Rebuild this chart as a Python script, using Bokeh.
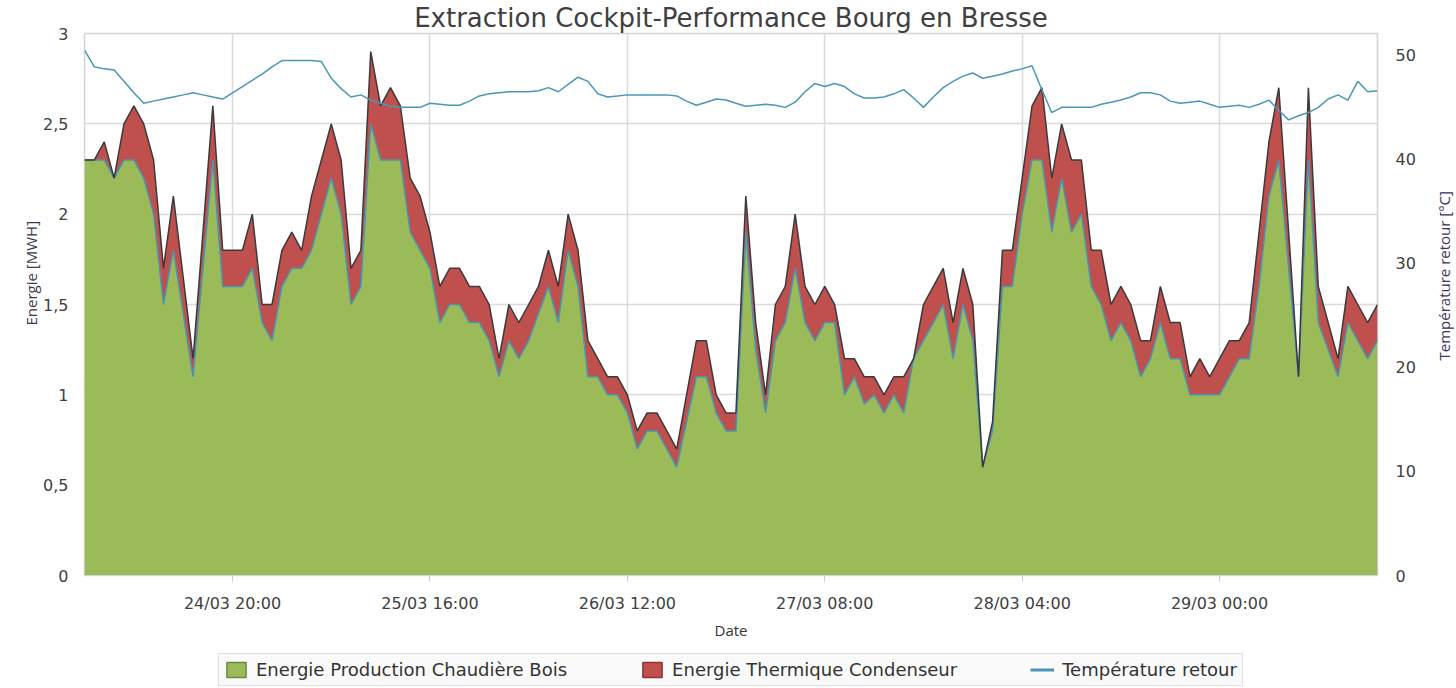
import pandas as pd
from bokeh.plotting import figure
from bokeh.layouts import column, row
from bokeh.models import (ColumnDataSource, Range1d, LinearAxis, FixedTicker,
                          DatetimeTickFormatter, Legend, LegendItem, Title)
from bokeh.embed import file_html
from bokeh.resources import INLINE

# ---------------- data (hourly) ----------------
start_time = "2021-03-24 05:00"

energie_bois = [
    2.3, 2.3, 2.3, 2.2, 2.3, 2.3, 2.2, 2.0, 1.5, 1.8,
    1.45, 1.1, 1.7, 2.3, 1.6, 1.6, 1.6, 1.7, 1.4, 1.3,
    1.6, 1.7, 1.7, 1.8, 2.0, 2.2, 2.0, 1.5, 1.6, 2.5,
    2.3, 2.3, 2.3, 1.9, 1.8, 1.7, 1.4, 1.5, 1.5, 1.4,
    1.4, 1.3, 1.1, 1.3, 1.2, 1.3, 1.45, 1.6, 1.4, 1.8,
    1.6, 1.1, 1.1, 1.0, 1.0, 0.9, 0.7, 0.8, 0.8, 0.7,
    0.6, 0.85, 1.1, 1.1, 0.9, 0.8, 0.8, 1.9, 1.25, 0.9,
    1.3, 1.4, 1.7, 1.4, 1.3, 1.4, 1.4, 1.0, 1.1, 0.95,
    1.0, 0.9, 1.0, 0.9, 1.2, 1.3, 1.4, 1.5, 1.2, 1.5,
    1.3, 0.6, 0.8, 1.6, 1.6, 2.0, 2.3, 2.3, 1.9, 2.2,
    1.9, 2.0, 1.6, 1.5, 1.3, 1.4, 1.3, 1.1, 1.2, 1.4,
    1.2, 1.2, 1.0, 1.0, 1.0, 1.0, 1.1, 1.2, 1.2, 1.6,
    2.1, 2.3, 1.7, 1.1, 2.3, 1.4, 1.25, 1.1, 1.4, 1.3,
    1.2, 1.3,
]

energie_condenseur = [
    0.0, 0.0, 0.1, 0.0, 0.2, 0.3, 0.3, 0.3, 0.2, 0.3,
    0.2, 0.1, 0.2, 0.3, 0.2, 0.2, 0.2, 0.3, 0.1, 0.2,
    0.2, 0.2, 0.1, 0.3, 0.3, 0.3, 0.3, 0.2, 0.2, 0.4,
    0.3, 0.4, 0.3, 0.3, 0.3, 0.2, 0.2, 0.2, 0.2, 0.2,
    0.2, 0.2, 0.1, 0.2, 0.2, 0.2, 0.15, 0.2, 0.2, 0.2,
    0.2, 0.2, 0.1, 0.1, 0.1, 0.1, 0.1, 0.1, 0.1, 0.1,
    0.1, 0.15, 0.2, 0.2, 0.1, 0.1, 0.1, 0.2, 0.15, 0.1,
    0.2, 0.2, 0.3, 0.2, 0.2, 0.2, 0.1, 0.2, 0.1, 0.15,
    0.1, 0.1, 0.1, 0.2, 0.0, 0.2, 0.2, 0.2, 0.2, 0.2,
    0.2, 0.0, 0.05, 0.2, 0.2, 0.2, 0.3, 0.4, 0.3, 0.3,
    0.4, 0.3, 0.2, 0.3, 0.2, 0.2, 0.2, 0.2, 0.1, 0.2,
    0.2, 0.2, 0.1, 0.2, 0.1, 0.2, 0.2, 0.1, 0.2, 0.3,
    0.3, 0.4, 0.2, 0.0, 0.4, 0.2, 0.15, 0.1, 0.2, 0.2,
    0.2, 0.2,
]

temperature_retour = [
    50.5, 48.9, 48.7, 48.6, 47.5, 46.4, 45.4, 45.6, 45.8, 46.0,
    46.2, 46.4, 46.2, 46.0, 45.8, 46.4, 47.0, 47.6, 48.2, 48.9,
    49.5, 49.5, 49.5, 49.5, 49.4, 47.8, 46.8, 46.0, 46.2, 45.7,
    45.4, 45.1, 45.0, 45.0, 45.0, 45.4, 45.3, 45.2, 45.2, 45.6,
    46.1, 46.3, 46.4, 46.5, 46.5, 46.5, 46.6, 46.9, 46.5, 47.2,
    47.9, 47.5, 46.3, 46.0, 46.1, 46.2, 46.2, 46.2, 46.2, 46.2,
    46.1, 45.6, 45.2, 45.5, 45.8, 45.7, 45.4, 45.1, 45.2, 45.3,
    45.2, 45.0, 45.5, 46.5, 47.3, 47.0, 47.3, 47.0, 46.3, 45.9,
    45.9, 46.0, 46.3, 46.7, 45.9, 45.0, 46.0, 46.9, 47.5, 48.0,
    48.3, 47.8, 48.0, 48.2, 48.5, 48.7, 49.0, 46.7, 44.5, 45.0,
    45.0, 45.0, 45.0, 45.3, 45.5, 45.7, 46.0, 46.4, 46.4, 46.2,
    45.6, 45.4, 45.5, 45.6, 45.3, 45.0, 45.1, 45.2, 45.0, 45.3,
    45.7, 44.7, 43.8, 44.2, 44.5, 45.0, 45.8, 46.2, 45.7, 47.5,
    46.5, 46.6,
]

x_tick_times = ["2021-03-24 20:00", "2021-03-25 16:00", "2021-03-26 12:00",
                "2021-03-27 08:00", "2021-03-28 04:00", "2021-03-29 00:00"]
y_ticks = [0, 0.5, 1, 1.5, 2, 2.5, 3]
y_tick_labels = ["0", "0,5", "1", "1,5", "2", "2,5", "3"]
temp_ticks = [0, 10, 20, 30, 40, 50]

title_text = "Extraction Cockpit-Performance Bourg en Bresse"
left_title = "Energie [MWH]"
right_title = "Température retour [°C]"
label_bois = "Energie Production Chaudière Bois"
label_cond = "Energie Thermique Condenseur"
label_temp = "Température retour"

# ---------------- build ----------------
times = pd.date_range(start_time, periods=len(energie_bois), freq="h")
src = ColumnDataSource(dict(t=times, bois=energie_bois, cond=energie_condenseur,
                            temp=temperature_retour))

GREEN = "#9BBB59"
RED = "#C0504D"
TEAL = "#4A96B8"
TOTAL_W = 1456
MAIN_W = 1418
SIDE_W = TOTAL_W - MAIN_W
MAIN_H = 653

p = figure(width=MAIN_W, height=MAIN_H, x_axis_type="datetime",
           x_range=Range1d(times[0].to_pydatetime(), times[-1].to_pydatetime()),
           y_range=Range1d(0, 3),
           output_backend="svg", toolbar_location=None,
           min_border_left=84, min_border_right=40, min_border_top=33,
           min_border_bottom=78)
p.outline_line_color = "#d4d4d4"
p.outline_line_width = 1.5
p.background_fill_color = "white"

# title
p.title.text = title_text
p.title.align = "center"
p.title.text_font = "DejaVu Sans"
p.title.text_font_size = "26px"
p.title.text_font_style = "normal"
p.title.text_color = "#404040"
p.title.standoff = 1

p.extra_y_ranges = {"temp": Range1d(0, 52.1)}

p.varea_stack(["bois", "cond"], x="t", color=[GREEN, RED], source=src)
p.vline_stack(["bois", "cond"], x="t", color=["#4A94B0", "#3a3a3a"],
              line_width=1.5, source=src)
p.line("t", "temp", source=src, y_range_name="temp", color=TEAL, line_width=1.5)

# axes
x_ticker = FixedTicker(ticks=[pd.Timestamp(s).value / 1e6 for s in x_tick_times])
p.xaxis.ticker = x_ticker
fmt = "%d/%m %H:%M"
p.xaxis.formatter = DatetimeTickFormatter(minutes=fmt, hourmin=fmt, hours=fmt,
                                          days=fmt, months=fmt, years=fmt)
p.xgrid.ticker = x_ticker
y_ticker = FixedTicker(ticks=y_ticks)
p.yaxis.ticker = y_ticker
p.ygrid.ticker = y_ticker
p.yaxis.major_label_overrides = {k: v for k, v in zip(y_ticks, y_tick_labels)}

for g in (p.xgrid, p.ygrid):
    g.grid_line_color = "#dadada"
    g.grid_line_width = 1.5

TICK_FONT = "DejaVu Sans"
for ax in (p.xaxis, p.yaxis):
    ax.major_label_text_font = TICK_FONT
    ax.major_label_text_font_size = "16px"
    ax.major_label_text_color = "#404040"
    ax.minor_tick_line_color = None

p.xaxis.axis_line_color = "#d4d4d4"
p.xaxis.major_tick_line_color = "#c8c8c8"
p.xaxis.major_tick_out = 6
p.xaxis.major_tick_in = 0
p.xaxis.major_label_standoff = 12
p.xaxis.axis_label = "Date"
p.xaxis.axis_label_text_font = "Open Sans"
p.xaxis.axis_label_text_font_size = "15px"
p.xaxis.axis_label_text_font_style = "normal"
p.xaxis.axis_label_text_color = "#333333"
p.xaxis.axis_label_standoff = 4

p.yaxis.axis_line_color = None
p.yaxis.major_tick_line_color = None
p.yaxis.major_label_standoff = 10

rax = LinearAxis(y_range_name="temp", ticker=FixedTicker(ticks=temp_ticks))
rax.axis_line_color = None
rax.major_tick_line_color = None
rax.minor_tick_line_color = None
rax.major_label_standoff = 12
rax.major_label_text_font = TICK_FONT
rax.major_label_text_font_size = "16px"
rax.major_label_text_color = "#404040"
p.add_layout(rax, "right")

# left axis title as a side title (reads bottom to top)
p.add_layout(Title(text=left_title, align="left", offset=250,
                   text_font="Open Sans", text_font_size="15px",
                   text_font_style="normal", text_color="#3a3a4e",
                   standoff=0), "left")

# ---------------- right axis title strip ----------------
pr = figure(width=SIDE_W, height=MAIN_H, x_range=Range1d(0, 1),
            y_range=Range1d(0, 1), x_axis_location=None, y_axis_location=None,
            output_backend="svg", toolbar_location=None,
            min_border_left=SIDE_W - 3, min_border_right=0, min_border_top=33,
            min_border_bottom=78)
pr.grid.visible = False
pr.outline_line_color = None
pr.add_layout(Title(text=right_title, align="left", offset=215,
                    text_font="Open Sans", text_font_size="15px",
                    text_font_style="normal", text_color="#3d3460",
                    standoff=0), "left")

# ---------------- legend strip ----------------
p2 = figure(width=TOTAL_W, height=35, x_range=Range1d(0, 1), y_range=Range1d(0, 1),
            x_axis_location=None, y_axis_location=None,
            output_backend="svg", toolbar_location=None,
            min_border_left=84, min_border_right=78, min_border_top=0,
            min_border_bottom=0)
p2.grid.visible = False
p2.outline_line_color = None

# legend glyphs (same data, outside this strip's visible range)
lg_g = p2.quad(left="t", right="t", top="bois", bottom="cond", source=src,
               fill_color=GREEN, line_color="#6E8B3D", line_width=1.5)
lg_r = p2.quad(left="t", right="t", top="bois", bottom="cond", source=src,
               fill_color=RED, line_color="#8C3532", line_width=1.5)
lg_t = p2.line(x="t", y="temp", source=src, color=TEAL, line_width=3)

legend = Legend(items=[LegendItem(label=label_bois, renderers=[lg_g]),
                       LegendItem(label=label_cond, renderers=[lg_r]),
                       LegendItem(label=label_temp, renderers=[lg_t])],
                location=(134, 2), orientation="horizontal",
                glyph_width=24, glyph_height=19, label_standoff=8,
                spacing=73, padding=5, margin=0,
                label_text_font="DejaVu Sans", label_text_font_size="18px",
                label_text_color="#333333",
                border_line_color="#c8c8c8", border_line_width=1.5,
                background_fill_color="#fafafa", background_fill_alpha=1.0)
p2.add_layout(legend, "center")

layout = column(row(p, pr, spacing=0), p2, spacing=0)
open("out.html", "w").write(file_html(layout, INLINE))
